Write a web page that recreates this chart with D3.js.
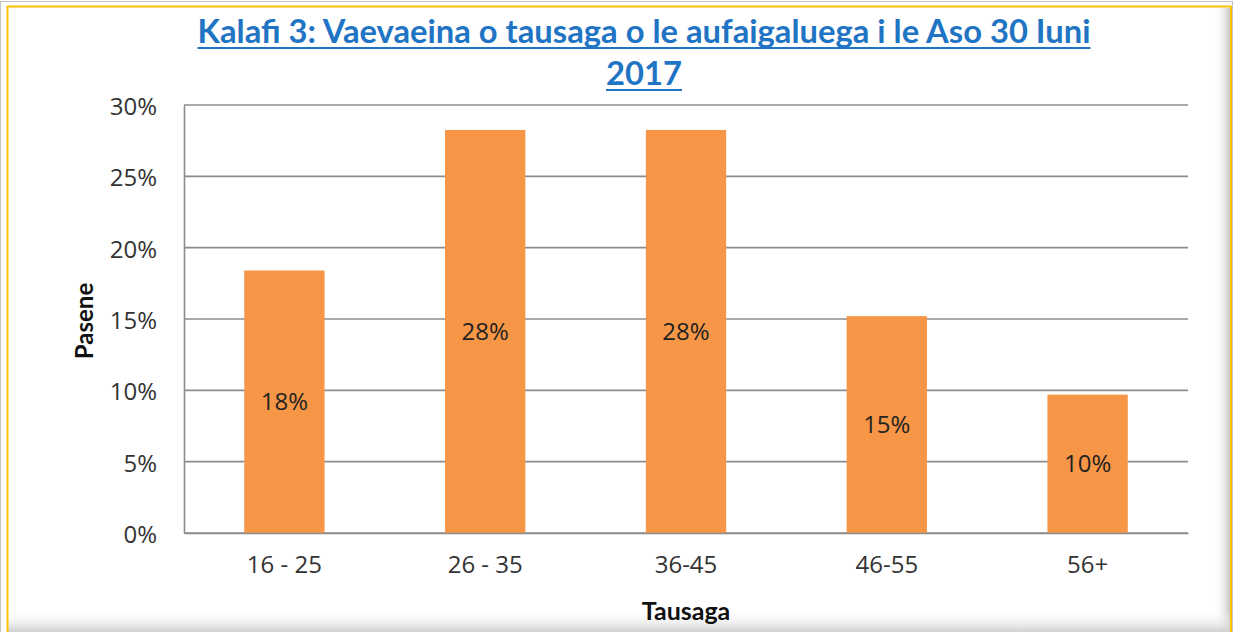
<!DOCTYPE html>
<html>
<head>
<meta charset="utf-8">
<script src="https://cdn.jsdelivr.net/npm/d3@7"></script>
<style>
  html, body { margin: 0; padding: 0; background: #fff; }
  svg { display: block; }
</style>
</head>
<body>
<svg id="chart" width="1233" height="632"></svg>
<script>
// data
const categories = ['16 - 25', '26 - 35', '36-45', '46-55', '56+']
const values = [18.4, 28.25, 28.25, 15.2, 9.7]
const barLabels = ['18%', '28%', '28%', '15%', '10%']
const yTicks = [0, 5, 10, 15, 20, 25, 30]

const titleLines = ['Kalafi 3: Vaevaeina o tausaga o le aufaigaluega i le Aso 30 Iuni', '2017']
const yTitle = 'Pasene'
const xTitle = 'Tausaga'

const W = 1233, H = 632
const margin = { top: 105, right: 45, bottom: 99, left: 184 }
const labelFont = '"Open Sans", sans-serif'
const root = d3.select('#chart')
const defs = root.append('defs')

// frame shading
const gr = defs.append('linearGradient').attr('id', 'shadeR').attr('x1', 0).attr('x2', 1).attr('y1', 0).attr('y2', 0)
gr.append('stop').attr('offset', '0%').attr('stop-color', '#fff').attr('stop-opacity', 0)
gr.append('stop').attr('offset', '100%').attr('stop-color', '#c8c8c8')
const gb = defs.append('linearGradient').attr('id', 'shadeB').attr('x1', 0).attr('x2', 0).attr('y1', 0).attr('y2', 1)
gb.append('stop').attr('offset', '0%').attr('stop-color', '#fff').attr('stop-opacity', 0)
gb.append('stop').attr('offset', '100%').attr('stop-color', '#d0d0d0')

root.append('rect').attr('x', 0.5).attr('y', 1.5).attr('width', W - 1).attr('height', H - 1)
  .attr('fill', '#fff').attr('stroke', '#c4c4c4').attr('stroke-width', 1)
root.append('rect').attr('x', 1214).attr('y', 8).attr('width', 16).attr('height', H - 8).attr('fill', 'url(#shadeR)')
root.append('rect').attr('x', 8).attr('y', 610).attr('width', W - 10).attr('height', 22).attr('fill', 'url(#shadeB)')
root.append('line').attr('x1', 7.5).attr('x2', 7.5).attr('y1', 6).attr('y2', H)
  .attr('stroke', '#ffc000').attr('stroke-width', 2)
root.append('line').attr('x1', 7).attr('x2', 1231.5).attr('y1', 6.5).attr('y2', 6.5)
  .attr('stroke', '#ffc000').attr('stroke-width', 2)
root.append('line').attr('x1', 1231).attr('x2', 1231).attr('y1', 6).attr('y2', H)
  .attr('stroke', '#ffc000').attr('stroke-width', 2)

const x = d3.scaleBand()
  .domain(categories)
  .range([margin.left, W - margin.right])
  .paddingInner(0.6)
  .paddingOuter(0.3)

const y = d3.scaleLinear()
  .domain([0, 30])
  .range([H - margin.bottom, margin.top])

// gridlines
root.append('g')
  .attr('class', 'grid')
  .selectAll('line')
  .data(yTicks)
  .enter().append('line')
  .attr('x1', margin.left).attr('x2', W - margin.right)
  .attr('y1', d => y(d)).attr('y2', d => y(d))
  .attr('stroke', '#8c8c8c').attr('stroke-width', 1.6)

// bars
root.append('g')
  .selectAll('rect')
  .data(values)
  .enter().append('rect')
  .attr('x', (d, i) => x(categories[i]))
  .attr('width', x.bandwidth())
  .attr('y', d => y(d))
  .attr('height', d => y(0) - y(d))
  .attr('fill', '#f79646')

// bar labels
root.append('g')
  .selectAll('text')
  .data(values)
  .enter().append('text')
  .attr('x', (d, i) => x(categories[i]) + x.bandwidth() / 2)
  .attr('y', d => (y(d) + y(0)) / 2 + 2)
  .attr('text-anchor', 'middle')
  .attr('dominant-baseline', 'middle')
  .attr('font-family', labelFont)
  .attr('font-size', 24)
  .attr('fill', '#222')
  .text((d, i) => barLabels[i])

// axes
const yAxis = root.append('g')
  .attr('transform', `translate(${margin.left},0)`)
  .call(d3.axisLeft(y).tickValues(yTicks).tickFormat(d => d + '%').tickSize(0).tickPadding(27))
yAxis.select('.domain').attr('stroke', '#8c8c8c').attr('stroke-width', 1.6)
yAxis.selectAll('text')
  .attr('font-family', labelFont).attr('font-size', 24).attr('fill', '#333')
  .attr('dy', '0.4em')

const xAxis = root.append('g')
  .attr('transform', `translate(0,${y(0)})`)
  .call(d3.axisBottom(x).tickSize(0).tickPadding(23))
xAxis.select('.domain').attr('stroke', '#8c8c8c').attr('stroke-width', 1.6)
xAxis.selectAll('text')
  .attr('font-family', labelFont).attr('font-size', 24).attr('fill', '#333')

// axis titles
root.append('text')
  .attr('transform', `translate(93,321) rotate(-90)`)
  .attr('text-anchor', 'middle')
  .attr('font-family', 'Lato, sans-serif').attr('font-weight', 'bold').attr('font-size', 24)
  .attr('fill', '#111')
  .text(yTitle)

root.append('text')
  .attr('x', 686).attr('y', 620)
  .attr('text-anchor', 'middle')
  .attr('font-family', 'Lato, sans-serif').attr('font-weight', 'bold').attr('font-size', 25)
  .attr('fill', '#111')
  .text(xTitle)

// title
const title = root.append('g')
titleLines.forEach((t, i) => {
  const ty = 43 + i * 42
  const tx = title.append('text')
    .attr('x', 644).attr('y', ty)
    .attr('text-anchor', 'middle')
    .attr('font-family', 'Lato, sans-serif').attr('font-weight', 'bold').attr('font-size', 28)
    .attr('fill', '#1f74c4')
    .text(t)
  if (i === 0) {
    const len = tx.node().getComputedTextLength()
    tx.attr('font-size', 28 * 893 / len)
  } else {
    tx.attr('font-size', title.select('text').attr('font-size'))
  }
  const w = tx.node().getComputedTextLength()
  title.append('line')
    .attr('x1', 644 - w / 2).attr('x2', 644 + w / 2)
    .attr('y1', ty + 5).attr('y2', ty + 5)
    .attr('stroke', '#1f74c4').attr('stroke-width', 2)
})
</script>
</body>
</html>
